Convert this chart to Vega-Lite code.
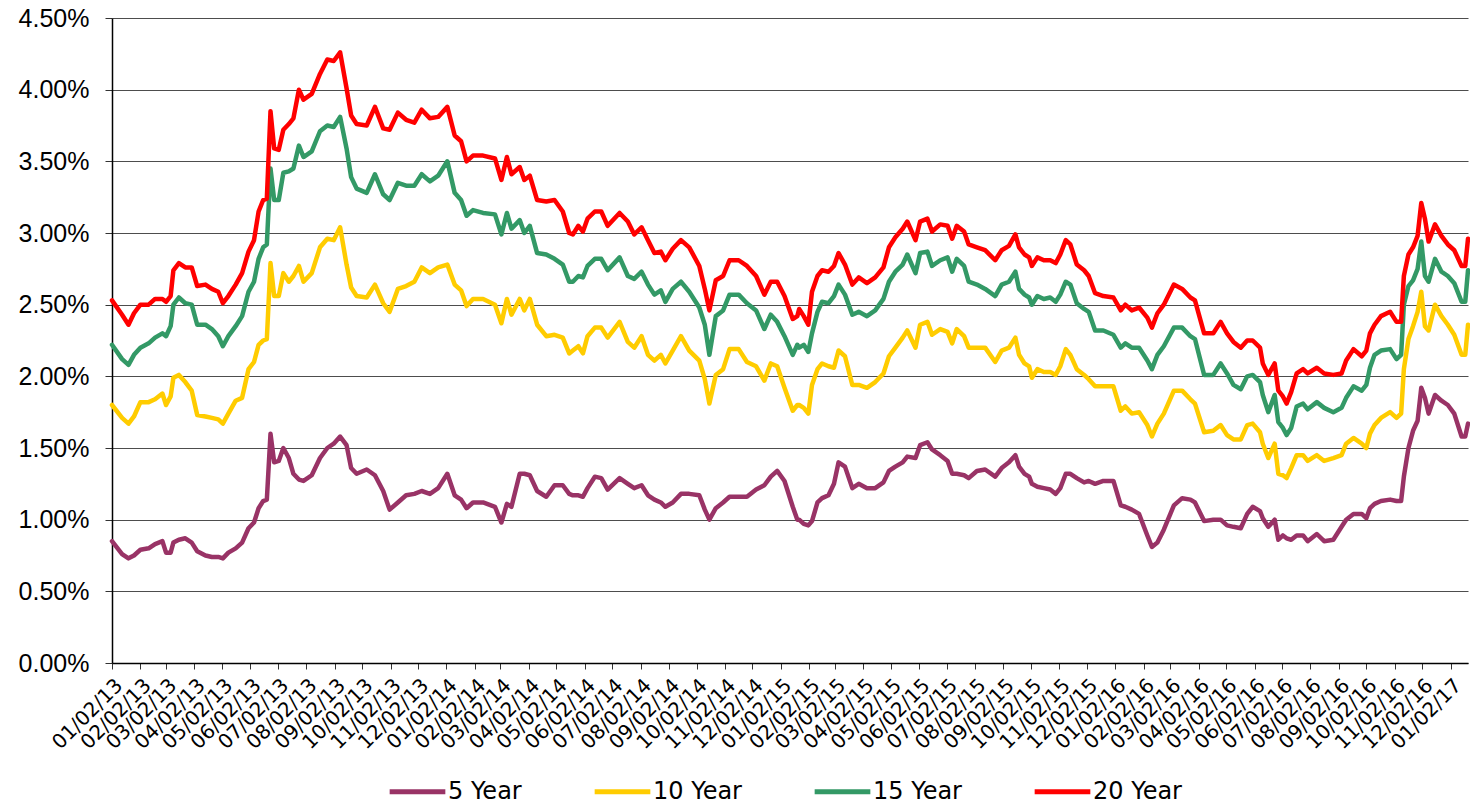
{
"$schema": "https://vega.github.io/schema/vega-lite/v6.json",
"width": 1356, "height": 645,
"autosize": {"type": "none"},
"padding": {"left": 112, "top": 18, "right": 2, "bottom": 143},
"background": "white",
"config": {"view": {"stroke": null}},
"data": {"values": [
{"d":"2013-01-02","5 Year":0.85,"10 Year":1.80,"15 Year":2.22,"20 Year":2.53},
{"d":"2013-01-13","5 Year":0.76,"10 Year":1.71,"15 Year":2.12,"20 Year":2.43},
{"d":"2013-01-20","5 Year":0.73,"10 Year":1.67,"15 Year":2.08,"20 Year":2.36},
{"d":"2013-01-26","5 Year":0.75,"10 Year":1.72,"15 Year":2.15,"20 Year":2.44},
{"d":"2013-02-02","5 Year":0.79,"10 Year":1.82,"15 Year":2.20,"20 Year":2.50},
{"d":"2013-02-11","5 Year":0.80,"10 Year":1.82,"15 Year":2.23,"20 Year":2.50},
{"d":"2013-02-18","5 Year":0.83,"10 Year":1.84,"15 Year":2.27,"20 Year":2.54},
{"d":"2013-02-26","5 Year":0.85,"10 Year":1.88,"15 Year":2.30,"20 Year":2.54},
{"d":"2013-03-02","5 Year":0.77,"10 Year":1.80,"15 Year":2.28,"20 Year":2.52},
{"d":"2013-03-07","5 Year":0.77,"10 Year":1.86,"15 Year":2.35,"20 Year":2.56},
{"d":"2013-03-10","5 Year":0.84,"10 Year":1.99,"15 Year":2.50,"20 Year":2.74},
{"d":"2013-03-16","5 Year":0.86,"10 Year":2.01,"15 Year":2.55,"20 Year":2.79},
{"d":"2013-03-23","5 Year":0.87,"10 Year":1.96,"15 Year":2.51,"20 Year":2.76},
{"d":"2013-03-30","5 Year":0.84,"10 Year":1.90,"15 Year":2.50,"20 Year":2.76},
{"d":"2013-04-05","5 Year":0.78,"10 Year":1.73,"15 Year":2.36,"20 Year":2.63},
{"d":"2013-04-14","5 Year":0.75,"10 Year":1.72,"15 Year":2.36,"20 Year":2.64},
{"d":"2013-04-21","5 Year":0.74,"10 Year":1.71,"15 Year":2.33,"20 Year":2.61},
{"d":"2013-04-28","5 Year":0.74,"10 Year":1.70,"15 Year":2.28,"20 Year":2.59},
{"d":"2013-05-03","5 Year":0.73,"10 Year":1.67,"15 Year":2.21,"20 Year":2.51},
{"d":"2013-05-09","5 Year":0.77,"10 Year":1.74,"15 Year":2.28,"20 Year":2.56},
{"d":"2013-05-17","5 Year":0.80,"10 Year":1.83,"15 Year":2.35,"20 Year":2.64},
{"d":"2013-05-24","5 Year":0.84,"10 Year":1.85,"15 Year":2.42,"20 Year":2.72},
{"d":"2013-05-31","5 Year":0.94,"10 Year":2.05,"15 Year":2.59,"20 Year":2.87},
{"d":"2013-06-06","5 Year":0.98,"10 Year":2.10,"15 Year":2.66,"20 Year":2.95},
{"d":"2013-06-11","5 Year":1.08,"10 Year":2.22,"15 Year":2.82,"20 Year":3.15},
{"d":"2013-06-16","5 Year":1.13,"10 Year":2.25,"15 Year":2.90,"20 Year":3.23},
{"d":"2013-06-20","5 Year":1.14,"10 Year":2.26,"15 Year":2.92,"20 Year":3.24},
{"d":"2013-06-24","5 Year":1.60,"10 Year":2.79,"15 Year":3.45,"20 Year":3.85},
{"d":"2013-06-28","5 Year":1.40,"10 Year":2.56,"15 Year":3.23,"20 Year":3.59},
{"d":"2013-07-03","5 Year":1.41,"10 Year":2.56,"15 Year":3.23,"20 Year":3.58},
{"d":"2013-07-08","5 Year":1.50,"10 Year":2.72,"15 Year":3.42,"20 Year":3.72},
{"d":"2013-07-14","5 Year":1.43,"10 Year":2.66,"15 Year":3.43,"20 Year":3.76},
{"d":"2013-07-19","5 Year":1.32,"10 Year":2.70,"15 Year":3.45,"20 Year":3.80},
{"d":"2013-07-25","5 Year":1.28,"10 Year":2.77,"15 Year":3.61,"20 Year":4.00},
{"d":"2013-07-30","5 Year":1.27,"10 Year":2.66,"15 Year":3.53,"20 Year":3.93},
{"d":"2013-08-08","5 Year":1.31,"10 Year":2.72,"15 Year":3.57,"20 Year":3.97},
{"d":"2013-08-17","5 Year":1.43,"10 Year":2.90,"15 Year":3.71,"20 Year":4.11},
{"d":"2013-08-25","5 Year":1.50,"10 Year":2.96,"15 Year":3.75,"20 Year":4.21},
{"d":"2013-09-01","5 Year":1.53,"10 Year":2.95,"15 Year":3.74,"20 Year":4.20},
{"d":"2013-09-08","5 Year":1.58,"10 Year":3.04,"15 Year":3.81,"20 Year":4.26},
{"d":"2013-09-15","5 Year":1.52,"10 Year":2.78,"15 Year":3.59,"20 Year":4.01},
{"d":"2013-09-20","5 Year":1.36,"10 Year":2.62,"15 Year":3.39,"20 Year":3.82},
{"d":"2013-09-26","5 Year":1.32,"10 Year":2.56,"15 Year":3.31,"20 Year":3.76},
{"d":"2013-10-07","5 Year":1.35,"10 Year":2.55,"15 Year":3.28,"20 Year":3.75},
{"d":"2013-10-16","5 Year":1.31,"10 Year":2.64,"15 Year":3.41,"20 Year":3.88},
{"d":"2013-10-25","5 Year":1.20,"10 Year":2.51,"15 Year":3.27,"20 Year":3.73},
{"d":"2013-11-01","5 Year":1.07,"10 Year":2.45,"15 Year":3.23,"20 Year":3.72},
{"d":"2013-11-10","5 Year":1.12,"10 Year":2.61,"15 Year":3.35,"20 Year":3.84},
{"d":"2013-11-19","5 Year":1.17,"10 Year":2.63,"15 Year":3.33,"20 Year":3.79},
{"d":"2013-11-28","5 Year":1.18,"10 Year":2.66,"15 Year":3.33,"20 Year":3.77},
{"d":"2013-12-06","5 Year":1.20,"10 Year":2.76,"15 Year":3.41,"20 Year":3.86},
{"d":"2013-12-15","5 Year":1.18,"10 Year":2.72,"15 Year":3.36,"20 Year":3.80},
{"d":"2013-12-24","5 Year":1.22,"10 Year":2.76,"15 Year":3.40,"20 Year":3.81},
{"d":"2014-01-03","5 Year":1.32,"10 Year":2.78,"15 Year":3.50,"20 Year":3.88},
{"d":"2014-01-11","5 Year":1.17,"10 Year":2.64,"15 Year":3.28,"20 Year":3.68},
{"d":"2014-01-18","5 Year":1.14,"10 Year":2.60,"15 Year":3.23,"20 Year":3.64},
{"d":"2014-01-24","5 Year":1.08,"10 Year":2.49,"15 Year":3.12,"20 Year":3.50},
{"d":"2014-01-31","5 Year":1.12,"10 Year":2.54,"15 Year":3.16,"20 Year":3.54},
{"d":"2014-02-11","5 Year":1.12,"10 Year":2.54,"15 Year":3.14,"20 Year":3.54},
{"d":"2014-02-24","5 Year":1.09,"10 Year":2.50,"15 Year":3.13,"20 Year":3.52},
{"d":"2014-03-03","5 Year":0.98,"10 Year":2.37,"15 Year":2.99,"20 Year":3.37},
{"d":"2014-03-09","5 Year":1.11,"10 Year":2.54,"15 Year":3.14,"20 Year":3.53},
{"d":"2014-03-14","5 Year":1.09,"10 Year":2.43,"15 Year":3.03,"20 Year":3.41},
{"d":"2014-03-23","5 Year":1.32,"10 Year":2.54,"15 Year":3.09,"20 Year":3.46},
{"d":"2014-03-28","5 Year":1.32,"10 Year":2.46,"15 Year":3.00,"20 Year":3.37},
{"d":"2014-04-03","5 Year":1.31,"10 Year":2.54,"15 Year":3.05,"20 Year":3.40},
{"d":"2014-04-11","5 Year":1.20,"10 Year":2.36,"15 Year":2.86,"20 Year":3.23},
{"d":"2014-04-21","5 Year":1.16,"10 Year":2.28,"15 Year":2.85,"20 Year":3.22},
{"d":"2014-04-30","5 Year":1.24,"10 Year":2.29,"15 Year":2.82,"20 Year":3.23},
{"d":"2014-05-09","5 Year":1.24,"10 Year":2.27,"15 Year":2.78,"20 Year":3.15},
{"d":"2014-05-16","5 Year":1.18,"10 Year":2.16,"15 Year":2.66,"20 Year":3.00},
{"d":"2014-05-20","5 Year":1.17,"10 Year":2.18,"15 Year":2.66,"20 Year":2.99},
{"d":"2014-05-26","5 Year":1.17,"10 Year":2.21,"15 Year":2.70,"20 Year":3.05},
{"d":"2014-05-31","5 Year":1.16,"10 Year":2.16,"15 Year":2.69,"20 Year":3.01},
{"d":"2014-06-05","5 Year":1.22,"10 Year":2.28,"15 Year":2.77,"20 Year":3.10},
{"d":"2014-06-13","5 Year":1.30,"10 Year":2.34,"15 Year":2.82,"20 Year":3.15},
{"d":"2014-06-20","5 Year":1.29,"10 Year":2.34,"15 Year":2.82,"20 Year":3.15},
{"d":"2014-06-27","5 Year":1.21,"10 Year":2.27,"15 Year":2.74,"20 Year":3.05},
{"d":"2014-07-10","5 Year":1.29,"10 Year":2.38,"15 Year":2.83,"20 Year":3.14},
{"d":"2014-07-19","5 Year":1.25,"10 Year":2.24,"15 Year":2.70,"20 Year":3.08},
{"d":"2014-07-26","5 Year":1.22,"10 Year":2.20,"15 Year":2.68,"20 Year":2.99},
{"d":"2014-08-03","5 Year":1.24,"10 Year":2.28,"15 Year":2.73,"20 Year":3.04},
{"d":"2014-08-10","5 Year":1.17,"10 Year":2.15,"15 Year":2.64,"20 Year":2.95},
{"d":"2014-08-17","5 Year":1.14,"10 Year":2.11,"15 Year":2.57,"20 Year":2.86},
{"d":"2014-08-24","5 Year":1.12,"10 Year":2.15,"15 Year":2.60,"20 Year":2.87},
{"d":"2014-08-29","5 Year":1.09,"10 Year":2.09,"15 Year":2.52,"20 Year":2.81},
{"d":"2014-09-06","5 Year":1.12,"10 Year":2.18,"15 Year":2.61,"20 Year":2.89},
{"d":"2014-09-15","5 Year":1.18,"10 Year":2.28,"15 Year":2.66,"20 Year":2.95},
{"d":"2014-09-24","5 Year":1.18,"10 Year":2.18,"15 Year":2.59,"20 Year":2.90},
{"d":"2014-10-05","5 Year":1.17,"10 Year":2.11,"15 Year":2.48,"20 Year":2.77},
{"d":"2014-10-11","5 Year":1.07,"10 Year":1.98,"15 Year":2.36,"20 Year":2.61},
{"d":"2014-10-16","5 Year":1.00,"10 Year":1.81,"15 Year":2.15,"20 Year":2.46},
{"d":"2014-10-23","5 Year":1.08,"10 Year":2.01,"15 Year":2.42,"20 Year":2.67},
{"d":"2014-10-31","5 Year":1.12,"10 Year":2.05,"15 Year":2.46,"20 Year":2.70},
{"d":"2014-11-07","5 Year":1.16,"10 Year":2.19,"15 Year":2.57,"20 Year":2.81},
{"d":"2014-11-17","5 Year":1.16,"10 Year":2.19,"15 Year":2.57,"20 Year":2.81},
{"d":"2014-11-26","5 Year":1.16,"10 Year":2.10,"15 Year":2.51,"20 Year":2.77},
{"d":"2014-12-06","5 Year":1.21,"10 Year":2.07,"15 Year":2.46,"20 Year":2.70},
{"d":"2014-12-15","5 Year":1.24,"10 Year":1.97,"15 Year":2.33,"20 Year":2.57},
{"d":"2014-12-22","5 Year":1.30,"10 Year":2.09,"15 Year":2.43,"20 Year":2.66},
{"d":"2014-12-29","5 Year":1.34,"10 Year":2.07,"15 Year":2.38,"20 Year":2.66},
{"d":"2015-01-06","5 Year":1.27,"10 Year":1.92,"15 Year":2.28,"20 Year":2.56},
{"d":"2015-01-15","5 Year":1.09,"10 Year":1.76,"15 Year":2.15,"20 Year":2.40},
{"d":"2015-01-20","5 Year":1.00,"10 Year":1.80,"15 Year":2.22,"20 Year":2.42},
{"d":"2015-01-22","5 Year":1.00,"10 Year":1.80,"15 Year":2.20,"20 Year":2.47},
{"d":"2015-01-27","5 Year":0.97,"10 Year":1.78,"15 Year":2.22,"20 Year":2.42},
{"d":"2015-02-01","5 Year":0.96,"10 Year":1.74,"15 Year":2.17,"20 Year":2.36},
{"d":"2015-02-05","5 Year":0.99,"10 Year":1.94,"15 Year":2.30,"20 Year":2.59},
{"d":"2015-02-11","5 Year":1.12,"10 Year":2.05,"15 Year":2.45,"20 Year":2.70},
{"d":"2015-02-16","5 Year":1.15,"10 Year":2.09,"15 Year":2.52,"20 Year":2.74},
{"d":"2015-02-23","5 Year":1.17,"10 Year":2.07,"15 Year":2.51,"20 Year":2.73},
{"d":"2015-03-01","5 Year":1.25,"10 Year":2.06,"15 Year":2.56,"20 Year":2.77},
{"d":"2015-03-06","5 Year":1.40,"10 Year":2.18,"15 Year":2.64,"20 Year":2.86},
{"d":"2015-03-13","5 Year":1.37,"10 Year":2.14,"15 Year":2.57,"20 Year":2.78},
{"d":"2015-03-21","5 Year":1.22,"10 Year":1.94,"15 Year":2.43,"20 Year":2.64},
{"d":"2015-03-28","5 Year":1.25,"10 Year":1.94,"15 Year":2.45,"20 Year":2.69},
{"d":"2015-04-06","5 Year":1.22,"10 Year":1.92,"15 Year":2.42,"20 Year":2.65},
{"d":"2015-04-15","5 Year":1.22,"10 Year":1.96,"15 Year":2.46,"20 Year":2.69},
{"d":"2015-04-24","5 Year":1.26,"10 Year":2.02,"15 Year":2.54,"20 Year":2.76},
{"d":"2015-04-30","5 Year":1.34,"10 Year":2.14,"15 Year":2.66,"20 Year":2.90},
{"d":"2015-05-07","5 Year":1.37,"10 Year":2.20,"15 Year":2.73,"20 Year":2.97},
{"d":"2015-05-15","5 Year":1.40,"10 Year":2.27,"15 Year":2.78,"20 Year":3.03},
{"d":"2015-05-20","5 Year":1.44,"10 Year":2.32,"15 Year":2.85,"20 Year":3.08},
{"d":"2015-05-29","5 Year":1.43,"10 Year":2.20,"15 Year":2.72,"20 Year":2.95},
{"d":"2015-06-03","5 Year":1.52,"10 Year":2.36,"15 Year":2.86,"20 Year":3.08},
{"d":"2015-06-11","5 Year":1.54,"10 Year":2.38,"15 Year":2.87,"20 Year":3.10},
{"d":"2015-06-16","5 Year":1.49,"10 Year":2.29,"15 Year":2.77,"20 Year":3.01},
{"d":"2015-06-25","5 Year":1.45,"10 Year":2.33,"15 Year":2.81,"20 Year":3.06},
{"d":"2015-07-03","5 Year":1.41,"10 Year":2.31,"15 Year":2.83,"20 Year":3.05},
{"d":"2015-07-08","5 Year":1.32,"10 Year":2.23,"15 Year":2.73,"20 Year":2.96},
{"d":"2015-07-13","5 Year":1.32,"10 Year":2.33,"15 Year":2.82,"20 Year":3.05},
{"d":"2015-07-21","5 Year":1.31,"10 Year":2.28,"15 Year":2.77,"20 Year":3.01},
{"d":"2015-07-26","5 Year":1.29,"10 Year":2.20,"15 Year":2.66,"20 Year":2.92},
{"d":"2015-08-04","5 Year":1.34,"10 Year":2.20,"15 Year":2.64,"20 Year":2.90},
{"d":"2015-08-13","5 Year":1.35,"10 Year":2.20,"15 Year":2.61,"20 Year":2.88},
{"d":"2015-08-24","5 Year":1.30,"10 Year":2.10,"15 Year":2.56,"20 Year":2.81},
{"d":"2015-08-31","5 Year":1.36,"10 Year":2.18,"15 Year":2.64,"20 Year":2.88},
{"d":"2015-09-08","5 Year":1.40,"10 Year":2.20,"15 Year":2.66,"20 Year":2.91},
{"d":"2015-09-15","5 Year":1.45,"10 Year":2.27,"15 Year":2.73,"20 Year":2.99},
{"d":"2015-09-19","5 Year":1.37,"10 Year":2.15,"15 Year":2.61,"20 Year":2.90},
{"d":"2015-09-25","5 Year":1.32,"10 Year":2.09,"15 Year":2.57,"20 Year":2.85},
{"d":"2015-09-30","5 Year":1.30,"10 Year":2.07,"15 Year":2.55,"20 Year":2.83},
{"d":"2015-10-03","5 Year":1.25,"10 Year":1.99,"15 Year":2.50,"20 Year":2.77},
{"d":"2015-10-09","5 Year":1.23,"10 Year":2.05,"15 Year":2.56,"20 Year":2.83},
{"d":"2015-10-16","5 Year":1.22,"10 Year":2.03,"15 Year":2.54,"20 Year":2.81},
{"d":"2015-10-23","5 Year":1.21,"10 Year":2.03,"15 Year":2.55,"20 Year":2.81},
{"d":"2015-10-29","5 Year":1.18,"10 Year":2.01,"15 Year":2.52,"20 Year":2.79},
{"d":"2015-11-03","5 Year":1.22,"10 Year":2.07,"15 Year":2.57,"20 Year":2.85},
{"d":"2015-11-09","5 Year":1.32,"10 Year":2.19,"15 Year":2.66,"20 Year":2.95},
{"d":"2015-11-14","5 Year":1.32,"10 Year":2.15,"15 Year":2.64,"20 Year":2.92},
{"d":"2015-11-21","5 Year":1.29,"10 Year":2.05,"15 Year":2.51,"20 Year":2.78},
{"d":"2015-11-29","5 Year":1.26,"10 Year":2.01,"15 Year":2.47,"20 Year":2.74},
{"d":"2015-12-04","5 Year":1.27,"10 Year":1.98,"15 Year":2.45,"20 Year":2.70},
{"d":"2015-12-11","5 Year":1.25,"10 Year":1.93,"15 Year":2.32,"20 Year":2.58},
{"d":"2015-12-20","5 Year":1.27,"10 Year":1.93,"15 Year":2.32,"20 Year":2.56},
{"d":"2015-12-31","5 Year":1.27,"10 Year":1.93,"15 Year":2.29,"20 Year":2.55},
{"d":"2016-01-08","5 Year":1.10,"10 Year":1.76,"15 Year":2.20,"20 Year":2.46},
{"d":"2016-01-13","5 Year":1.09,"10 Year":1.79,"15 Year":2.23,"20 Year":2.50},
{"d":"2016-01-20","5 Year":1.07,"10 Year":1.74,"15 Year":2.20,"20 Year":2.46},
{"d":"2016-01-28","5 Year":1.04,"10 Year":1.75,"15 Year":2.20,"20 Year":2.48},
{"d":"2016-02-06","5 Year":0.89,"10 Year":1.66,"15 Year":2.11,"20 Year":2.41},
{"d":"2016-02-11","5 Year":0.81,"10 Year":1.58,"15 Year":2.05,"20 Year":2.34},
{"d":"2016-02-17","5 Year":0.84,"10 Year":1.67,"15 Year":2.15,"20 Year":2.44},
{"d":"2016-02-24","5 Year":0.93,"10 Year":1.74,"15 Year":2.21,"20 Year":2.50},
{"d":"2016-03-06","5 Year":1.10,"10 Year":1.90,"15 Year":2.34,"20 Year":2.64},
{"d":"2016-03-15","5 Year":1.15,"10 Year":1.90,"15 Year":2.34,"20 Year":2.61},
{"d":"2016-03-24","5 Year":1.14,"10 Year":1.84,"15 Year":2.28,"20 Year":2.55},
{"d":"2016-03-29","5 Year":1.12,"10 Year":1.81,"15 Year":2.26,"20 Year":2.53},
{"d":"2016-04-08","5 Year":0.99,"10 Year":1.61,"15 Year":2.01,"20 Year":2.30},
{"d":"2016-04-18","5 Year":1.00,"10 Year":1.62,"15 Year":2.01,"20 Year":2.30},
{"d":"2016-04-26","5 Year":1.00,"10 Year":1.66,"15 Year":2.09,"20 Year":2.38},
{"d":"2016-05-03","5 Year":0.96,"10 Year":1.59,"15 Year":2.02,"20 Year":2.30},
{"d":"2016-05-10","5 Year":0.95,"10 Year":1.56,"15 Year":1.94,"20 Year":2.24},
{"d":"2016-05-18","5 Year":0.94,"10 Year":1.56,"15 Year":1.91,"20 Year":2.20},
{"d":"2016-05-25","5 Year":1.04,"10 Year":1.66,"15 Year":2.00,"20 Year":2.25},
{"d":"2016-05-31","5 Year":1.09,"10 Year":1.67,"15 Year":2.01,"20 Year":2.25},
{"d":"2016-06-08","5 Year":1.06,"10 Year":1.61,"15 Year":1.96,"20 Year":2.20},
{"d":"2016-06-11","5 Year":1.01,"10 Year":1.53,"15 Year":1.87,"20 Year":2.09},
{"d":"2016-06-17","5 Year":0.95,"10 Year":1.43,"15 Year":1.75,"20 Year":2.01},
{"d":"2016-06-24","5 Year":1.00,"10 Year":1.53,"15 Year":1.87,"20 Year":2.09},
{"d":"2016-06-28","5 Year":0.86,"10 Year":1.32,"15 Year":1.68,"20 Year":1.90},
{"d":"2016-07-03","5 Year":0.89,"10 Year":1.31,"15 Year":1.64,"20 Year":1.86},
{"d":"2016-07-07","5 Year":0.87,"10 Year":1.29,"15 Year":1.59,"20 Year":1.81},
{"d":"2016-07-12","5 Year":0.86,"10 Year":1.36,"15 Year":1.64,"20 Year":1.89},
{"d":"2016-07-18","5 Year":0.89,"10 Year":1.45,"15 Year":1.79,"20 Year":2.02},
{"d":"2016-07-25","5 Year":0.89,"10 Year":1.45,"15 Year":1.81,"20 Year":2.05},
{"d":"2016-07-30","5 Year":0.85,"10 Year":1.41,"15 Year":1.77,"20 Year":2.02},
{"d":"2016-08-09","5 Year":0.90,"10 Year":1.45,"15 Year":1.82,"20 Year":2.06},
{"d":"2016-08-17","5 Year":0.85,"10 Year":1.41,"15 Year":1.78,"20 Year":2.02},
{"d":"2016-08-27","5 Year":0.86,"10 Year":1.43,"15 Year":1.75,"20 Year":2.01},
{"d":"2016-09-05","5 Year":0.95,"10 Year":1.45,"15 Year":1.78,"20 Year":2.02},
{"d":"2016-09-10","5 Year":1.00,"10 Year":1.53,"15 Year":1.85,"20 Year":2.11},
{"d":"2016-09-18","5 Year":1.04,"10 Year":1.57,"15 Year":1.93,"20 Year":2.19},
{"d":"2016-09-27","5 Year":1.04,"10 Year":1.53,"15 Year":1.90,"20 Year":2.14},
{"d":"2016-10-02","5 Year":1.01,"10 Year":1.50,"15 Year":1.94,"20 Year":2.18},
{"d":"2016-10-06","5 Year":1.08,"10 Year":1.60,"15 Year":2.06,"20 Year":2.30},
{"d":"2016-10-11","5 Year":1.11,"10 Year":1.66,"15 Year":2.15,"20 Year":2.36},
{"d":"2016-10-18","5 Year":1.13,"10 Year":1.71,"15 Year":2.18,"20 Year":2.42},
{"d":"2016-10-28","5 Year":1.14,"10 Year":1.75,"15 Year":2.19,"20 Year":2.45},
{"d":"2016-11-04","5 Year":1.13,"10 Year":1.71,"15 Year":2.12,"20 Year":2.38},
{"d":"2016-11-09","5 Year":1.13,"10 Year":1.74,"15 Year":2.15,"20 Year":2.38},
{"d":"2016-11-12","5 Year":1.30,"10 Year":2.05,"15 Year":2.50,"20 Year":2.70},
{"d":"2016-11-17","5 Year":1.50,"10 Year":2.26,"15 Year":2.63,"20 Year":2.85},
{"d":"2016-11-22","5 Year":1.62,"10 Year":2.35,"15 Year":2.67,"20 Year":2.90},
{"d":"2016-11-27","5 Year":1.69,"10 Year":2.45,"15 Year":2.75,"20 Year":2.98},
{"d":"2016-12-01","5 Year":1.92,"10 Year":2.59,"15 Year":2.94,"20 Year":3.21},
{"d":"2016-12-05","5 Year":1.85,"10 Year":2.35,"15 Year":2.70,"20 Year":3.10},
{"d":"2016-12-09","5 Year":1.74,"10 Year":2.32,"15 Year":2.66,"20 Year":2.94},
{"d":"2016-12-16","5 Year":1.87,"10 Year":2.50,"15 Year":2.82,"20 Year":3.06},
{"d":"2016-12-23","5 Year":1.83,"10 Year":2.42,"15 Year":2.73,"20 Year":2.98},
{"d":"2016-12-30","5 Year":1.80,"10 Year":2.36,"15 Year":2.70,"20 Year":2.92},
{"d":"2017-01-06","5 Year":1.74,"10 Year":2.29,"15 Year":2.65,"20 Year":2.88},
{"d":"2017-01-14","5 Year":1.58,"10 Year":2.15,"15 Year":2.52,"20 Year":2.77},
{"d":"2017-01-18","5 Year":1.58,"10 Year":2.15,"15 Year":2.52,"20 Year":2.77},
{"d":"2017-01-21","5 Year":1.67,"10 Year":2.36,"15 Year":2.74,"20 Year":2.96}
]},
"transform": [{"fold": ["5 Year", "10 Year", "15 Year", "20 Year"], "as": ["series", "value"]}],
"mark": {"type": "line", "strokeWidth": 4.5, "strokeJoin": "round", "strokeCap": "round"},
"encoding": {
  "x": {"field": "d", "type": "temporal",
    "scale": {"type": "utc", "domain": [{"year": 2013, "month": 1, "date": 2, "utc": true}, {"year": 2017, "month": 1, "date": 21, "utc": true}]},
    "axis": {"title": null, "format": "%m/%d/%y", "labelAngle": -45, "labelFont": "DejaVu Sans", "labelFontSize": 20, "labelColor": "#000",
      "grid": false, "domainColor": "#000", "domainWidth": 1.5, "tickColor": "#333", "tickSize": 6, "labelOverlap": false, "labelFlush": false, "labelPadding": 6,
      "values": [
        {"year":2013,"month":1,"date":2,"utc":true},{"year":2013,"month":2,"date":2,"utc":true},{"year":2013,"month":3,"date":2,"utc":true},{"year":2013,"month":4,"date":2,"utc":true},
        {"year":2013,"month":5,"date":2,"utc":true},{"year":2013,"month":6,"date":2,"utc":true},{"year":2013,"month":7,"date":2,"utc":true},{"year":2013,"month":8,"date":2,"utc":true},
        {"year":2013,"month":9,"date":2,"utc":true},{"year":2013,"month":10,"date":2,"utc":true},{"year":2013,"month":11,"date":2,"utc":true},{"year":2013,"month":12,"date":2,"utc":true},
        {"year":2014,"month":1,"date":2,"utc":true},{"year":2014,"month":2,"date":2,"utc":true},{"year":2014,"month":3,"date":2,"utc":true},{"year":2014,"month":4,"date":2,"utc":true},
        {"year":2014,"month":5,"date":2,"utc":true},{"year":2014,"month":6,"date":2,"utc":true},{"year":2014,"month":7,"date":2,"utc":true},{"year":2014,"month":8,"date":2,"utc":true},
        {"year":2014,"month":9,"date":2,"utc":true},{"year":2014,"month":10,"date":2,"utc":true},{"year":2014,"month":11,"date":2,"utc":true},{"year":2014,"month":12,"date":2,"utc":true},
        {"year":2015,"month":1,"date":2,"utc":true},{"year":2015,"month":2,"date":2,"utc":true},{"year":2015,"month":3,"date":2,"utc":true},{"year":2015,"month":4,"date":2,"utc":true},
        {"year":2015,"month":5,"date":2,"utc":true},{"year":2015,"month":6,"date":2,"utc":true},{"year":2015,"month":7,"date":2,"utc":true},{"year":2015,"month":8,"date":2,"utc":true},
        {"year":2015,"month":9,"date":2,"utc":true},{"year":2015,"month":10,"date":2,"utc":true},{"year":2015,"month":11,"date":2,"utc":true},{"year":2015,"month":12,"date":2,"utc":true},
        {"year":2016,"month":1,"date":2,"utc":true},{"year":2016,"month":2,"date":2,"utc":true},{"year":2016,"month":3,"date":2,"utc":true},{"year":2016,"month":4,"date":2,"utc":true},
        {"year":2016,"month":5,"date":2,"utc":true},{"year":2016,"month":6,"date":2,"utc":true},{"year":2016,"month":7,"date":2,"utc":true},{"year":2016,"month":8,"date":2,"utc":true},
        {"year":2016,"month":9,"date":2,"utc":true},{"year":2016,"month":10,"date":2,"utc":true},{"year":2016,"month":11,"date":2,"utc":true},{"year":2016,"month":12,"date":2,"utc":true},
        {"year":2017,"month":1,"date":2,"utc":true}
      ]}},
  "y": {"field": "value", "type": "quantitative",
    "scale": {"domain": [0, 4.5], "nice": false, "zero": true},
    "axis": {"title": null, "values": [0, 0.5, 1, 1.5, 2, 2.5, 3, 3.5, 4, 4.5], "labelExpr": "format(datum.value, '.2f') + '%'",
      "labelFont": "Liberation Sans", "labelFontSize": 25, "labelColor": "#000", "grid": true, "gridColor": "#4d4d4d", "gridWidth": 1,
      "domainColor": "#000", "domainWidth": 1.5, "tickColor": "#333", "tickSize": 7, "labelPadding": 16}},
  "color": {"field": "series", "type": "nominal",
    "scale": {"domain": ["5 Year", "10 Year", "15 Year", "20 Year"], "range": ["#993366", "#FFCC00", "#339966", "#FF0000"]},
    "legend": {"title": null, "orient": "none", "legendX": 275, "legendY": 743, "direction": "horizontal",
      "symbolType": "stroke", "symbolSize": 3100, "symbolStrokeWidth": 5, "labelFont": "DejaVu Sans", "labelFontSize": 24,
      "labelColor": "#000", "columnPadding": 62, "labelOffset": 0, "padding": 0, "labelLimit": 300}}
}
}
